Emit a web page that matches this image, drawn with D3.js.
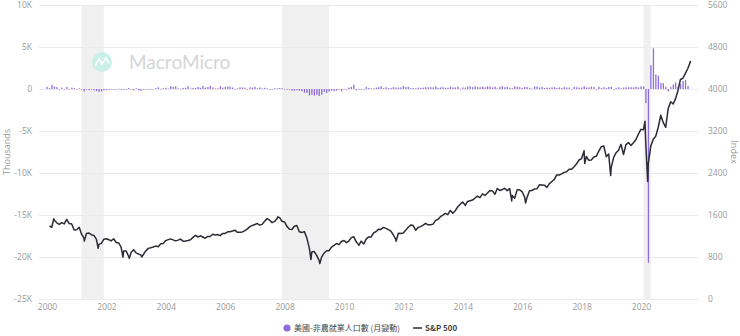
<!DOCTYPE html>
<html><head><meta charset="utf-8">
<script src="https://cdn.jsdelivr.net/npm/d3@7"></script>
<style>
body{margin:0;background:#fff;}
svg{display:block;font-family:"Open Sans","Noto Sans",sans-serif;}
</style></head><body>
<svg id="c" width="740" height="336"></svg>
<script>
// ---- data ----
const leftTicks = [-25000,-20000,-15000,-10000,-5000,0,5000,10000];
const leftTickLabels = ["-25K","-20K","-15K","-10K","-5K","0","5K","10K"];
const rightTicks = [0,800,1600,2400,3200,4000,4800,5600];
const xTickYears = [2000,2002,2004,2006,2008,2010,2012,2014,2016,2018,2020];
const recessions = [["2001-03-01","2001-11-30"],["2007-12-01","2009-06-30"],["2020-02-01","2020-04-30"]];

// NFP monthly change (thousands), Jan 2000 .. Aug 2021
const nfpStart = "2000-01";
const nfp = [
249,118,478,288,228,-45,163,-3,248,-2,158,110,
-12,70,-29,-284,-47,-131,-21,-151,-243,-328,-291,-174,
-131,-60,-24,-83,-8,45,-97,-14,-55,124,11,-160,
87,-158,-214,-49,-8,5,22,-45,103,201,17,100,
153,43,338,250,310,81,48,123,155,346,63,133,
131,240,140,362,170,243,373,196,67,84,337,159,
276,312,288,182,19,75,200,182,156,4,205,171,
238,88,188,78,144,71,-33,-24,88,84,114,98,
17,-84,-78,-210,-185,-165,-209,-266,-452,-473,-769,-695,
-791,-703,-823,-686,-351,-470,-329,-212,-258,-198,6,-283,
18,-50,156,251,516,-122,-61,-42,-57,241,137,71,
70,168,212,322,102,217,106,122,221,183,164,196,
360,226,243,96,110,88,160,150,161,225,203,214,
190,311,135,192,218,146,140,269,185,189,291,45,
187,168,272,310,213,306,232,218,286,200,331,286,
190,272,86,262,344,206,254,157,100,321,272,239,
126,237,225,153,43,297,291,176,249,124,164,155,
190,221,119,193,120,222,179,180,14,256,210,171,
171,330,182,196,270,235,19,272,119,213,147,241,
269,1,147,210,85,182,194,207,208,185,261,184,
315,289,-1683,-20679,2833,4846,1726,1583,716,680,264,-306,
233,536,785,269,614,962,1091,366
];

// S&P 500 monthly closes, Jan 2000 .. Aug 2021
const spxStart = "2000-01";
const spx = [
1394,1366,1499,1452,1421,1455,1431,1518,1437,1429,1315,1320,
1366,1240,1160,1249,1256,1224,1211,1134,1041,1060,1139,1148,
1130,1107,1147,1077,1067,990,912,916,815,886,936,880,
856,841,848,917,964,975,990,1008,996,1051,1058,1112,
1131,1145,1126,1107,1121,1141,1102,1104,1115,1130,1174,1212,
1181,1204,1181,1157,1192,1191,1234,1220,1229,1207,1249,1248,
1280,1281,1295,1311,1270,1270,1277,1304,1336,1378,1401,1418,
1438,1407,1421,1482,1531,1503,1455,1474,1527,1549,1481,1468,
1379,1331,1323,1386,1400,1280,1267,1283,1165,969,896,903,
826,735,798,873,919,919,987,1021,1057,1036,1096,1115,
1074,1104,1169,1187,1089,1031,1102,1049,1141,1183,1181,1258,
1286,1327,1326,1364,1345,1321,1292,1219,1131,1253,1247,1258,
1312,1366,1408,1398,1310,1362,1379,1407,1441,1412,1416,1426,
1498,1515,1569,1598,1631,1606,1686,1633,1682,1757,1806,1848,
1783,1859,1872,1884,1924,1960,1931,2003,1972,2018,2068,2059,
1995,2105,2068,2086,2107,2063,2104,1972,1920,2079,2080,2044,
1940,1932,2060,2065,2097,2099,2174,2171,2168,2126,2199,2239,
2279,2364,2363,2384,2412,2423,2470,2472,2519,2575,2648,2674,
2824,2714,2641,2648,2705,2718,2816,2902,2914,2712,2760,2507,
2704,2784,2834,2946,2752,2942,2980,2926,2977,3038,3141,3231,
3226,2954,2585,2912,3044,3100,3271,3500,3363,3270,3622,3756,
3714,3811,3973,4181,4204,4298,4395,4523
];
// intramonth extremes of S&P 500
const spxExtraDates = ["2000-03-24","2001-04-04","2001-09-21","2002-07-23","2002-10-09","2003-03-11","2007-10-09","2008-11-20","2009-03-09","2010-07-02","2011-10-03","2015-08-25","2016-02-11","2018-02-08","2018-12-24","2020-02-19","2020-03-23","2021-09-02"];
const spxExtraValues = [1527,1103,966,797,777,800,1565,752,677,1022,1099,1868,1829,2581,2351,3386,2237,4537];

const seriesNames = ["美國-非農就業人口數 (月變動)","S&P 500"];

// ---- build ----
const parseM = d3.timeParse("%Y-%m");
const parseD = d3.timeParse("%Y-%m-%d");
const nfpData = nfp.map((v,i)=>({date:d3.timeMonth.offset(parseM(nfpStart),i),value:v}));
let spxData = spx.map((v,i)=>({date:d3.timeDay.offset(d3.timeMonth.offset(parseM(spxStart),i+1),-1),value:v}));
spxExtraDates.forEach((d,i)=>spxData.push({date:parseD(d),value:spxExtraValues[i]}));
spxData.sort((a,b)=>a.date-b.date);

const svg = d3.select("#c");
const L=39,R=698,T=5,B=299;
const x = d3.scaleTime().domain([new Date(2000,0,1),new Date(2020,0,1)]).range([47,641]);
const yL = d3.scaleLinear().domain([-25000,10000]).range([B,T]);
const yR = d3.scaleLinear().domain([0,5600]).range([B,T]);

// recession bands
svg.append("g").selectAll("rect").data(recessions).join("rect")
 .attr("x",d=>x(parseD(d[0]))).attr("width",d=>x(parseD(d[1]))-x(parseD(d[0])))
 .attr("y",T).attr("height",B-T).attr("fill","#f0f0f0");

// grid
svg.append("g").selectAll("line").data(leftTicks).join("line")
 .attr("x1",L).attr("x2",R).attr("y1",d=>yL(d)+0.5).attr("y2",d=>yL(d)+0.5)
 .attr("stroke","#ebebeb").attr("stroke-width",1);

// watermark
const wm = svg.append("g").attr("opacity",0.9);
wm.append("circle").attr("cx",102).attr("cy",62).attr("r",10).attr("fill","#c6efe6");
wm.append("path").attr("d","M95,66 L99,59 L102,64 L106,58 L109,63").attr("fill","none").attr("stroke","#fff").attr("stroke-width",1.6);
wm.append("text").attr("x",129).attr("y",69).attr("font-size",19).attr("fill","#d2d2d2")
 .attr("font-family","Lato, 'Open Sans', sans-serif").text("MacroMicro");

// left axis
const axL = d3.axisLeft(yL).tickValues(leftTicks).tickFormat((d,i)=>leftTickLabels[i]).tickSize(0).tickPadding(0);
const gL = svg.append("g").attr("transform",`translate(32,0)`).call(axL);
gL.select(".domain").remove();
gL.selectAll("text").attr("fill","#999").attr("font-size",8.5).attr("font-family","'Open Sans',sans-serif");

// right axis
const axR = d3.axisRight(yR).tickValues(rightTicks).tickFormat(d3.format("d")).tickSize(0).tickPadding(0);
const gR = svg.append("g").attr("transform",`translate(708,0)`).call(axR);
gR.select(".domain").remove();
gR.selectAll("text").attr("fill","#999").attr("font-size",8.5).attr("font-family","'Open Sans',sans-serif");

// x axis
const axX = d3.axisBottom(x).tickValues(xTickYears.map(y=>new Date(y,0,1))).tickFormat(d3.timeFormat("%Y")).tickSize(0).tickPadding(0);
const gX = svg.append("g").attr("transform",`translate(0,304)`).call(axX);
gX.select(".domain").remove();
gX.selectAll("text").attr("fill","#999").attr("font-size",8.5).attr("dy","0.71em").attr("font-family","'Open Sans',sans-serif");

// axis titles
svg.append("text").attr("transform","translate(10,152) rotate(-90)").attr("text-anchor","middle")
 .attr("font-size",9).attr("fill","#999").text("Thousands");
svg.append("text").attr("transform","translate(731,152) rotate(90)").attr("text-anchor","middle")
 .attr("font-size",9).attr("fill","#999").text("Index");

// bars
const purple = "#8e6ddb";
svg.append("g").selectAll("rect").data(nfpData).join("rect")
 .attr("x",d=>x(d.date)-0.6).attr("width",1.3)
 .attr("y",d=>Math.min(yL(d.value),yL(0))).attr("height",d=>Math.max(0.6,Math.abs(yL(d.value)-yL(0))))
 .attr("fill",purple);

// line
svg.append("path").datum(spxData)
 .attr("d",d3.line().x(d=>x(d.date)).y(d=>yR(d.value)))
 .attr("fill","none").attr("stroke","#2b2c36").attr("stroke-width",1.5).attr("stroke-linejoin","round");

// legend
const lg = svg.append("g").attr("font-family","'Noto Sans CJK TC','Noto Sans',sans-serif").attr("font-size",8);
lg.append("circle").attr("cx",287).attr("cy",328).attr("r",3.6).attr("fill",purple);
lg.append("text").attr("x",294).attr("y",331).attr("fill","#444").text(seriesNames[0]);
lg.append("line").attr("x1",413).attr("x2",422).attr("y1",328).attr("y2",328).attr("stroke","#2b2c36").attr("stroke-width",1.5);
lg.append("text").attr("x",425).attr("y",331).attr("fill","#444").attr("font-weight","bold").text(seriesNames[1]);
</script>
</body></html>
